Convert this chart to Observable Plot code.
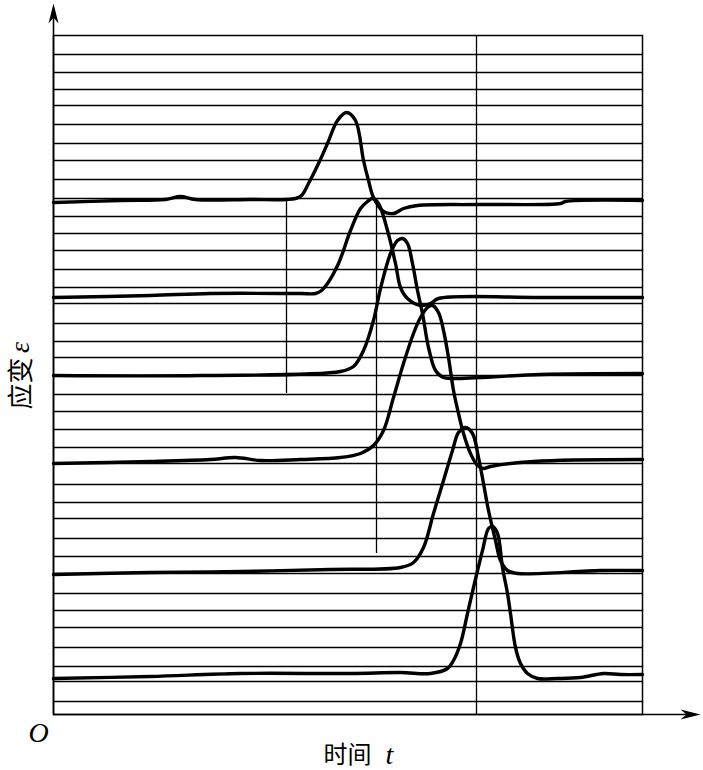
<!DOCTYPE html>
<html>
<head>
<meta charset="utf-8">
<script src="https://cdn.jsdelivr.net/npm/d3@7"></script>
<script src="https://cdn.jsdelivr.net/npm/@observablehq/plot@0.6"></script>
<style>
  html, body { margin: 0; padding: 0; background: #fff; }
  #chart svg { display: block; }
</style>
</head>
<body>
<div id="chart"></div>
<script>
// time t (0..589) and strain ε (0..679), in plot units
const tMax = 589;
const eMax = 679;

// strain traces, each [t, ε]
const trace1 = [[0,512],[67,514],[112,515],[127,518],[142,515],[197,515],[233,515],[242,516],[248,519],[255,531],[265,551],[274,571],[284,594],[293,602],[302,594],[310,554],[315,534],[320,517],[330,503],[340,501],[350,506],[364,509],[423,510],[507,511],[512,513],[589,514]];
const trace2 = [[0,417],[97,419],[157,421],[247,421],[262,421],[268,424],[274,431],[285,451],[297,484],[307,506],[314,513],[319,516],[325,511],[334,484],[342,451],[347,427],[354,416],[367,409],[377,411],[385,416],[487,417],[589,417]];
const trace3 = [[0,339],[147,339],[287,343],[300,348],[310,364],[320,394],[327,426],[337,461],[344,474],[349,476],[354,471],[359,451],[364,424],[369,401],[375,367],[382,344],[390,337],[400,336],[487,340],[589,341]];
const trace4 = [[0,251],[97,253],[157,255],[182,257],[207,254],[247,255],[287,257],[307,261],[320,269],[330,284],[340,317],[350,351],[360,381],[367,397],[374,407],[379,409],[385,402],[390,384],[395,357],[400,324],[405,301],[410,281],[417,261],[424,249],[430,246],[437,248],[480,253],[589,255]];
const trace5 = [[0,140],[97,142],[187,143],[277,145],[347,147],[360,152],[370,167],[380,201],[390,234],[399,264],[405,282],[412,287],[419,281],[425,257],[430,231],[435,204],[442,174],[447,154],[454,144],[464,141],[547,144],[589,144]];
const trace6 = [[0,36],[97,38],[187,41],[297,41],[347,42],[377,41],[394,46],[400,54],[407,71],[414,101],[420,127],[429,164],[435,186],[439,188],[444,181],[449,147],[454,121],[457,101],[462,67],[467,51],[474,41],[484,36],[504,36],[527,37],[550,41],[567,40],[589,40]];

// horizontal chart-paper lines (ε values)
const gridLines = [660,642,625,609,590,571,554,535,516,498,481,464,445,427,411,391,373,357,339,320,303,285,267,251,230,212,196,176,158,141,121,104,87,67,48,33,13];

// vertical reference lines: t, from ε1 to ε2
const refLines = [
  {t: 233, e1: 321, e2: 514},
  {t: 323, e1: 161, e2: 516}
];
const fullRefLine = [423];

// axis arrow tips
const xAxisTip = 647;
const yAxisTip = 711;

const traces = [trace1, trace2, trace3, trace4, trace5, trace6];
const data = traces.flatMap((tr, i) => tr.map(([t, e]) => ({trace: i + 1, t, e})));

// dart-shaped arrowhead, tip at origin, pointing up
const dart = {
  draw(ctx) {
    ctx.moveTo(0, 0);
    ctx.lineTo(-5, 20);
    ctx.lineTo(0, 14);
    ctx.lineTo(5, 20);
    ctx.closePath();
  }
};

const chart = Plot.plot({
  width: 703,
  height: 770,
  marginLeft: 53,
  marginRight: 61,
  marginTop: 35,
  marginBottom: 56,
  style: {background: "#fff", color: "#000"},
  x: {domain: [0, tMax], axis: null},
  y: {domain: [0, eMax], axis: null},
  marks: [
    Plot.ruleY(gridLines, {stroke: "#000", strokeWidth: 1.4}),
    Plot.frame({stroke: "#000", strokeWidth: 1.5}),
    Plot.ruleX(fullRefLine, {stroke: "#000", strokeWidth: 1.3}),
    Plot.ruleX(refLines, {x: "t", y1: "e1", y2: "e2", stroke: "#000", strokeWidth: 1.3}),
    Plot.ruleX([0], {y1: 0, y2: yAxisTip - 8, stroke: "#000", strokeWidth: 1.6}),
    Plot.ruleY([0], {x1: 0, x2: xAxisTip - 8, stroke: "#000", strokeWidth: 1.6}),
    Plot.dot([{t: 0, e: yAxisTip}], {x: "t", y: "e", symbol: dart, r: 5, fill: "#000", stroke: "none"}),
    Plot.dot([{t: xAxisTip, e: 0}], {x: "t", y: "e", symbol: dart, r: 5, rotate: 90, fill: "#000", stroke: "none"}),
    Plot.line(data, {x: "t", y: "e", z: "trace", curve: "catmull-rom", stroke: "#000", strokeWidth: 3.4, strokeLinejoin: "round", strokeLinecap: "round"}),
    Plot.text([{t: -15, e: -19, s: "O"}], {x: "t", y: "e", text: "s", fontFamily: "Liberation Serif", fontStyle: "italic", fontSize: 28, fill: "#000"}),
    Plot.text([{t: 294, e: -41, s: "时间"}], {x: "t", y: "e", text: "s", fontFamily: "Noto Sans CJK SC", fontSize: 24, fill: "#000"}),
    Plot.text([{t: 336, e: -41, s: "t"}], {x: "t", y: "e", text: "s", fontFamily: "Liberation Serif", fontStyle: "italic", fontSize: 28, fill: "#000"}),
    Plot.text([{t: -32, e: 331, s: "应变"}], {x: "t", y: "e", text: "s", rotate: -90, fontFamily: "Noto Sans CJK SC", fontSize: 26, fill: "#000"}),
    Plot.text([{t: -33, e: 367, s: "ε"}], {x: "t", y: "e", text: "s", rotate: -90, fontFamily: "Liberation Serif", fontStyle: "italic", fontSize: 28, fill: "#000"})
  ]
});

document.getElementById("chart").appendChild(chart);
</script>
</body>
</html>
